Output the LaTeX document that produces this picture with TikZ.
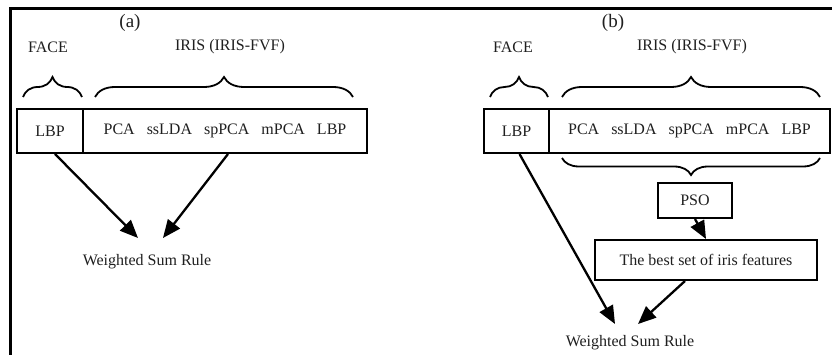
\documentclass[tikz,border=0pt]{standalone}
\usepackage{fontspec}
\setmainfont{Liberation Serif}
\usetikzlibrary{arrows.meta,decorations.pathreplacing,calc}
\begin{document}
\begin{tikzpicture}[x=1pt,y=-1pt,
  lbl/.style={font=\fontsize{16}{19}\selectfont, text=black!88},
  cell/.style={draw, line width=2pt, minimum height=44pt, inner sep=0pt, lbl},
  flowbox/.style={draw, line width=2pt, inner sep=0pt, lbl},
  brc/.style={decorate, decoration={brace, amplitude=#1}, line width=1.8pt},
  conn/.style={line width=2.3pt, -{Triangle[length=18pt,width=15pt]}},
  frame/.style={line width=3pt}]
\useasboundingbox (0,0) rectangle (832,355);

% outer frame (top and left edges)
\draw[frame] (10,355) -- (10,9) -- (832,9);

% ---------- panel (a) ----------
\node[lbl, font=\fontsize{19}{22}\selectfont] (tagA) at (130,23) {(a)};
\node[lbl] (faceA) at (48,47) {FACE};
\node[lbl] (irisA) at (230,47) {IRIS (IRIS-FVF)};

\node[cell, minimum width=66pt] (cellFaceA) at (50,131) {LBP};
\node[cell, minimum width=284pt] (cellIrisA) at (225,131)
  {PCA\hspace{12pt}ssLDA\hspace{12pt}spPCA\hspace{12pt}mPCA\hspace{12pt}LBP};

\draw[brc=20pt] (23,97) -- (82,97);
\draw[brc=20pt] (95,97) -- (353,97);

\node[lbl] (wsA) at (147,262) {Weighted Sum Rule};
\coordinate (wsA-l) at (138,238);
\coordinate (wsA-r) at (163,238);
\draw[conn] ($(cellFaceA.south)+(5,0)$) -- (wsA-l);
\draw[conn] ($(cellIrisA.south)+(3,0)$) -- (wsA-r);

% ---------- panel (b) ----------
\node[lbl, font=\fontsize{19}{22}\selectfont] (tagB) at (613,23) {(b)};
\node[lbl] (faceB) at (513,47) {FACE};
\node[lbl] (irisB) at (692,47) {IRIS (IRIS-FVF)};

\node[cell, minimum width=65pt] (cellFaceB) at (516.5,131) {LBP};
\node[cell, minimum width=281pt] (cellIrisB) at (689.5,131)
  {PCA\hspace{12pt}ssLDA\hspace{12pt}spPCA\hspace{12pt}mPCA\hspace{12pt}LBP};

\draw[brc=20pt] (490,97) -- (548,97);
\draw[brc=20pt] (562,97) -- (820,97);
\draw[brc=17pt] (820,158) -- (562,158);

\node[flowbox, minimum width=74pt, minimum height=35pt] (pso) at (695,200.5) {PSO};
\node[flowbox, minimum width=222pt, minimum height=40pt] (best) at (706,260)
  {The best set of iris features};
\draw[conn] (pso.south) -- (best.north);

\node[lbl] (wsB) at (630,343) {Weighted Sum Rule};
\coordinate (wsB-l) at (615,324);
\coordinate (wsB-r) at (638,324);
\draw[conn] ($(cellFaceB.south)+(3,0)$) -- (wsB-l);
\draw[conn] ($(best.south)+(-21,0)$) -- (wsB-r);
\end{tikzpicture}
\end{document}
